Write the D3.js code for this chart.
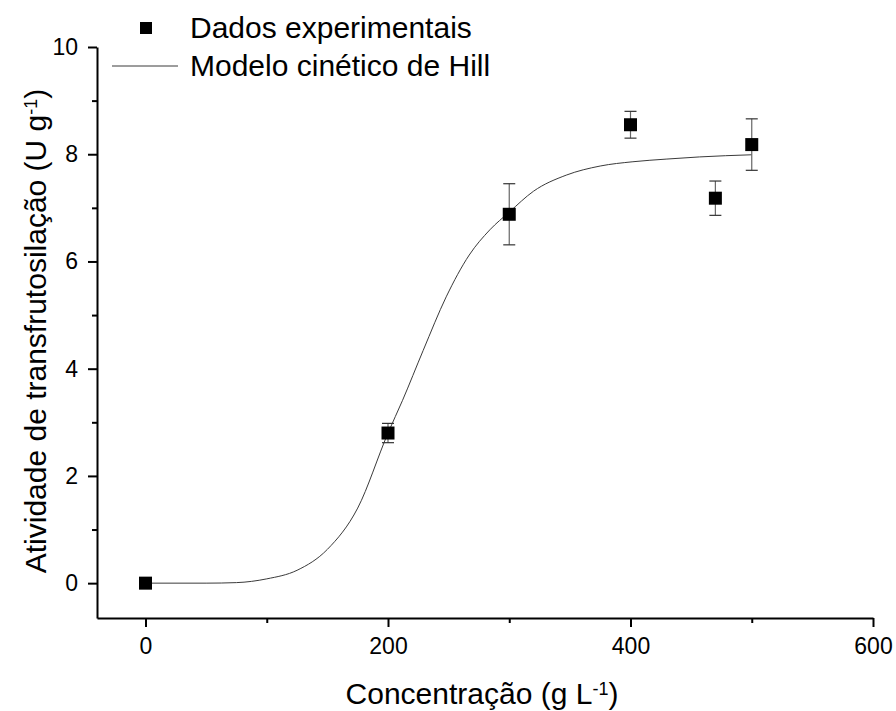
<!DOCTYPE html>
<html>
<head>
<meta charset="utf-8">
<script src="https://cdn.jsdelivr.net/npm/d3@7"></script>
<style>
  html, body { margin: 0; padding: 0; background: #fff; }
  svg { display: block; font-family: "Liberation Sans", Arial, sans-serif; }
</style>
</head>
<body>
<svg id="chart" width="896" height="711"></svg>
<script>
// ---- Data ----
const concentration = [0, 200, 300, 400, 470, 500];
const activity      = [0, 2.8, 6.88, 8.55, 7.18, 8.18];
const activityErr   = [0, 0.18, 0.57, 0.25, 0.32, 0.48];

// Hill kinetic model curve
const modelX = [0, 50, 75, 100, 125, 150, 175, 200, 212, 229, 248, 267, 284, 300, 320, 347, 375, 402, 430, 457, 500];
const modelY = [0, 0.0, 0.01, 0.08, 0.24, 0.63, 1.4, 2.8, 3.41, 4.34, 5.34, 6.12, 6.59, 6.92, 7.31, 7.61, 7.78, 7.86, 7.91, 7.95, 7.99];

const xMajorTicks = [0, 200, 400, 600];
const xMinorTicks = [100, 300, 500];
const yMajorTicks = [0, 2, 4, 6, 8, 10];
const yMinorTicks = [1, 3, 5, 7, 9];

const legendLabels = ["Dados experimentais", "Modelo cinético de Hill"];

// ---- Drawing ----
const svg = d3.select("#chart");
const x = d3.scaleLinear().domain([-40, 600]).range([97, 873]);
const y = d3.scaleLinear().domain([-0.65, 10]).range([618, 47]);

const axisColor = "#000";
const tickFont = "23px";

// X axis
const gx = svg.append("g").attr("transform", `translate(0,${y.range()[0]})`);
gx.call(d3.axisBottom(x).tickValues(xMajorTicks).tickSize(9).tickSizeOuter(0).tickPadding(11).tickFormat(d3.format("d")));
gx.append("g").call(d3.axisBottom(x).tickValues(xMinorTicks).tickSize(5).tickSizeOuter(0).tickFormat(""))
  .select(".domain").remove();

// Y axis
const gy = svg.append("g").attr("transform", `translate(${x.range()[0]},0)`);
gy.call(d3.axisLeft(y).tickValues(yMajorTicks).tickSize(9).tickSizeOuter(0).tickPadding(10).tickFormat(d3.format("d")));
gy.append("g").call(d3.axisLeft(y).tickValues(yMinorTicks).tickSize(5).tickSizeOuter(0).tickFormat(""))
  .select(".domain").remove();

svg.selectAll(".domain").attr("stroke", axisColor).attr("stroke-width", 2);
svg.selectAll(".tick line").attr("stroke", axisColor).attr("stroke-width", 2);
svg.selectAll(".tick text")
  .attr("fill", "#000")
  .style("font-size", tickFont)
  .style("font-family", "'Liberation Sans', Arial, sans-serif");

// Model curve
const modelData = modelX.map((v, i) => [v, modelY[i]]);
svg.append("path")
  .datum(modelData)
  .attr("fill", "none")
  .attr("stroke", "#3a3a3a")
  .attr("stroke-width", 1)
  .attr("d", d3.line().x(d => x(d[0])).y(d => y(d[1])).curve(d3.curveMonotoneX));

// Error bars
const pts = concentration.map((c, i) => ({ c, v: activity[i], e: activityErr[i] }));
const eb = svg.append("g").selectAll("g").data(pts.filter(d => d.e > 0)).join("g");
eb.append("line")
  .attr("x1", d => x(d.c)).attr("x2", d => x(d.c))
  .attr("y1", d => y(d.v + d.e)).attr("y2", d => y(d.v - d.e))
  .attr("stroke", "#666").attr("stroke-width", 1.2);
[1, -1].forEach(s => {
  eb.append("line")
    .attr("x1", d => x(d.c) - 6).attr("x2", d => x(d.c) + 6)
    .attr("y1", d => y(d.v + s * d.e)).attr("y2", d => y(d.v + s * d.e))
    .attr("stroke", "#333").attr("stroke-width", 1.2);
});

// Markers
const ms = 13;
svg.append("g").selectAll("rect").data(pts).join("rect")
  .attr("x", d => x(d.c) - ms / 2).attr("y", d => y(d.v) - ms / 2)
  .attr("width", ms).attr("height", ms)
  .attr("fill", "#000");

// Legend
const lg = svg.append("g");
lg.append("rect").attr("x", 140).attr("y", 22).attr("width", 12).attr("height", 12).attr("fill", "#000");
lg.append("text").attr("x", 190).attr("y", 38).text(legendLabels[0])
  .style("font-size", "30px").attr("fill", "#000");
lg.append("line").attr("x1", 112).attr("x2", 178).attr("y1", 66).attr("y2", 66)
  .attr("stroke", "#3a3a3a").attr("stroke-width", 1);
lg.append("text").attr("x", 190).attr("y", 76).text(legendLabels[1])
  .style("font-size", "30px").attr("fill", "#000");

// Axis titles
const xt = svg.append("text")
  .attr("x", 482).attr("y", 704)
  .attr("text-anchor", "middle")
  .style("font-size", "30px").attr("fill", "#000");
xt.append("tspan").text("Concentração (g L");
xt.append("tspan").attr("dy", -9).style("font-size", "18px").text("-1");
xt.append("tspan").attr("dy", 9).text(")");

const yt = svg.append("text")
  .attr("transform", "translate(46,331) rotate(-90)")
  .attr("text-anchor", "middle")
  .style("font-size", "30px").attr("fill", "#000");
yt.append("tspan").text("Atividade de transfrutosilação (U g");
yt.append("tspan").attr("dy", -9).style("font-size", "18px").text("-1");
yt.append("tspan").attr("dy", 9).text(")");
</script>
</body>
</html>
